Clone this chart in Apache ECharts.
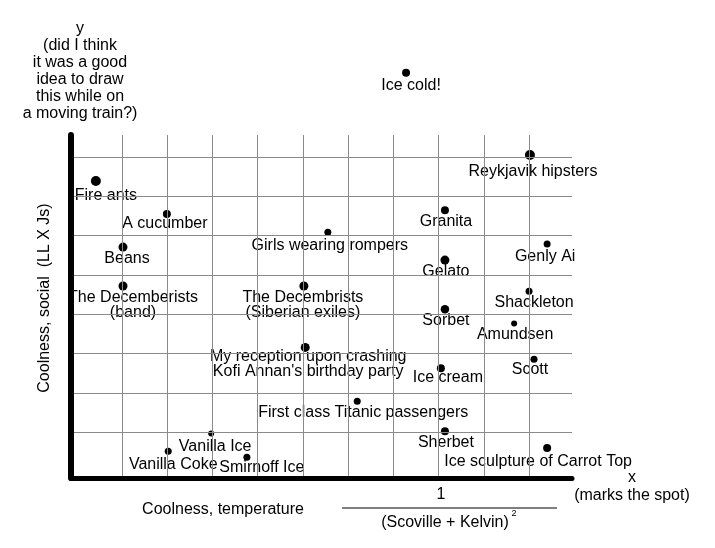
<!DOCTYPE html>
<html>
<head>
<meta charset="utf-8">
<script src="https://cdn.jsdelivr.net/npm/echarts@6/dist/echarts.min.js"></script>
<style>
  html, body { margin: 0; background: #fff; }
  #chart { width: 715px; height: 548px; }
</style>
</head>
<body>
<div id="chart"></div>
<script>
// things on the coolness chart
var names = [
  'Fire ants', 'A cucumber', 'Beans', 'The Decemberists\n(band)',
  'Girls wearing rompers', 'The Decembrists\n(Siberian exiles)',
  'My reception upon crashing\nKofi Annan\'s birthday party',
  'Granita', 'Gelato', 'Sorbet', 'Ice cream', 'Genly Ai', 'Shackleton',
  'Amundsen', 'Scott', 'First class Titanic passengers', 'Sherbet',
  'Ice sculpture of Carrot Top', 'Vanilla Ice', 'Vanilla Coke',
  'Smirnoff Ice', 'Ice cold!', 'Reykjavik hipsters'
]
// coolness, temperature
var tempCool = [
  0.42, 1.99, 1.02, 1.02, 5.55, 5.02, 5.05, 8.14, 8.14, 8.14, 8.05, 10.40,
  10.00, 9.67, 10.11, 6.20, 8.14, 10.40, 2.97, 2.02, 3.76, 7.28, 10.02
]
// coolness, social
var socialCool = [
  7.39, 6.55, 5.71, 4.72, 6.09, 4.72, 3.16, 6.65, 5.38, 4.13, 2.63, 5.79,
  4.59, 3.77, 2.86, 1.79, 1.03, 0.60, 0.97, 0.52, 0.37, 10.14, 8.05
]
var gridX = [1, 2, 3, 4, 5, 6, 7, 8, 9, 10]
var gridY = [1, 2, 3, 4, 5, 6, 7, 8]

// dot size and where each label sits relative to its dot
var dotSize = [10, 8, 9, 9, 7, 9, 9, 8, 9, 8.5, 8, 7, 7, 6, 7, 7, 8, 8, 6, 7, 7, 8, 10]
var labelOffset = [
  [10, 15], [-2, 10], [4, 11], [10, 19], [2, 13], [-1, 19], [3, 16.5],
  [1, 11], [1, 12], [1, 11], [7, 9], [-2, 13], [5, 11], [1, 11], [-4, 10],
  [6, 11], [1, 11], [-9, 13], [4, 13], [5, 13], [15, 10], [5, 13], [3, 17]
]

var font = 'Liberation Sans, Arial, Helvetica, sans-serif'
var gray = '#8a8a8a'

var points = names.map(function (n, i) {
  return {
    name: n,
    value: [tempCool[i], socialCool[i]],
    symbolSize: dotSize[i],
    label: { offset: labelOffset[i] }
  }
})

var chart = echarts.init(document.getElementById('chart'))

chart.setOption({
  animation: false,
  grid: { left: 71, right: 143, top: 135, bottom: 70 },
  xAxis: {
    type: 'value',
    min: -0.13,
    max: 10.95,
    z: 5,
    axisLine: { onZero: false, lineStyle: { color: '#000', width: 5, cap: 'round' } },
    axisTick: { show: false },
    axisLabel: { show: false },
    splitLine: { show: false }
  },
  yAxis: {
    type: 'value',
    min: -0.16,
    max: 8.56,
    z: 5,
    name: 'y\n(did I think\nit was a good\nidea to draw\nthis while on\na moving train?)',
    nameLocation: 'end',
    nameGap: 13,
    nameTextStyle: {
      fontFamily: font, fontSize: 16, color: '#000', lineHeight: 17,
      align: 'center', padding: [0, 0, 0, 18]
    },
    axisLine: { show: true, onZero: false, lineStyle: { color: '#000', width: 6, cap: 'round' } },
    axisTick: { show: false },
    axisLabel: { show: false },
    splitLine: { show: false }
  },
  series: [{
    type: 'scatter',
    clip: false,
    symbol: 'circle',
    itemStyle: { color: '#000', opacity: 1 },
    label: {
      show: true,
      position: 'inside',
      formatter: '{b}',
      fontFamily: font,
      fontSize: 16,
      lineHeight: 15,
      color: '#000',
      align: 'center',
      verticalAlign: 'middle'
    },
    emphasis: { disabled: true },
    data: points,
    markLine: {
      silent: true,
      symbol: 'none',
      label: { show: false },
      lineStyle: { color: gray, width: 1, type: 'solid', opacity: 1 },
      emphasis: { disabled: true },
      data: gridX.map(function (v) { return { xAxis: v } })
        .concat(gridY.map(function (v) { return { yAxis: v } }))
    }
  }],
  graphic: [
    {
      type: 'text', x: 632, y: 487,
      style: {
        text: 'x\n(marks the spot)', font: '16px ' + font, lineHeight: 18,
        fill: '#000', align: 'center', verticalAlign: 'middle'
      }
    },
    {
      type: 'text', x: 45, y: 298, rotation: Math.PI / 2,
      style: {
        text: 'Coolness, social  (LL X Js)', font: '16px ' + font,
        fill: '#000', align: 'center', verticalAlign: 'middle'
      }
    },
    {
      type: 'text', x: 223, y: 510,
      style: {
        text: 'Coolness, temperature', font: '16px ' + font,
        fill: '#000', align: 'center', verticalAlign: 'middle'
      }
    },
    {
      type: 'text', x: 441, y: 495,
      style: { text: '1', font: '16px ' + font, fill: '#000', align: 'center', verticalAlign: 'middle' }
    },
    {
      type: 'line', shape: { x1: 342, y1: 508, x2: 557, y2: 508 },
      style: { stroke: '#000', lineWidth: 1 }
    },
    {
      type: 'text', x: 445, y: 523,
      style: { text: '(Scoville + Kelvin)', font: '16px ' + font, fill: '#000', align: 'center', verticalAlign: 'middle' }
    },
    {
      type: 'text', x: 514, y: 514,
      style: { text: '2', font: '9px ' + font, fill: '#000', align: 'center', verticalAlign: 'middle' }
    }
  ]
})
</script>
</body>
</html>
